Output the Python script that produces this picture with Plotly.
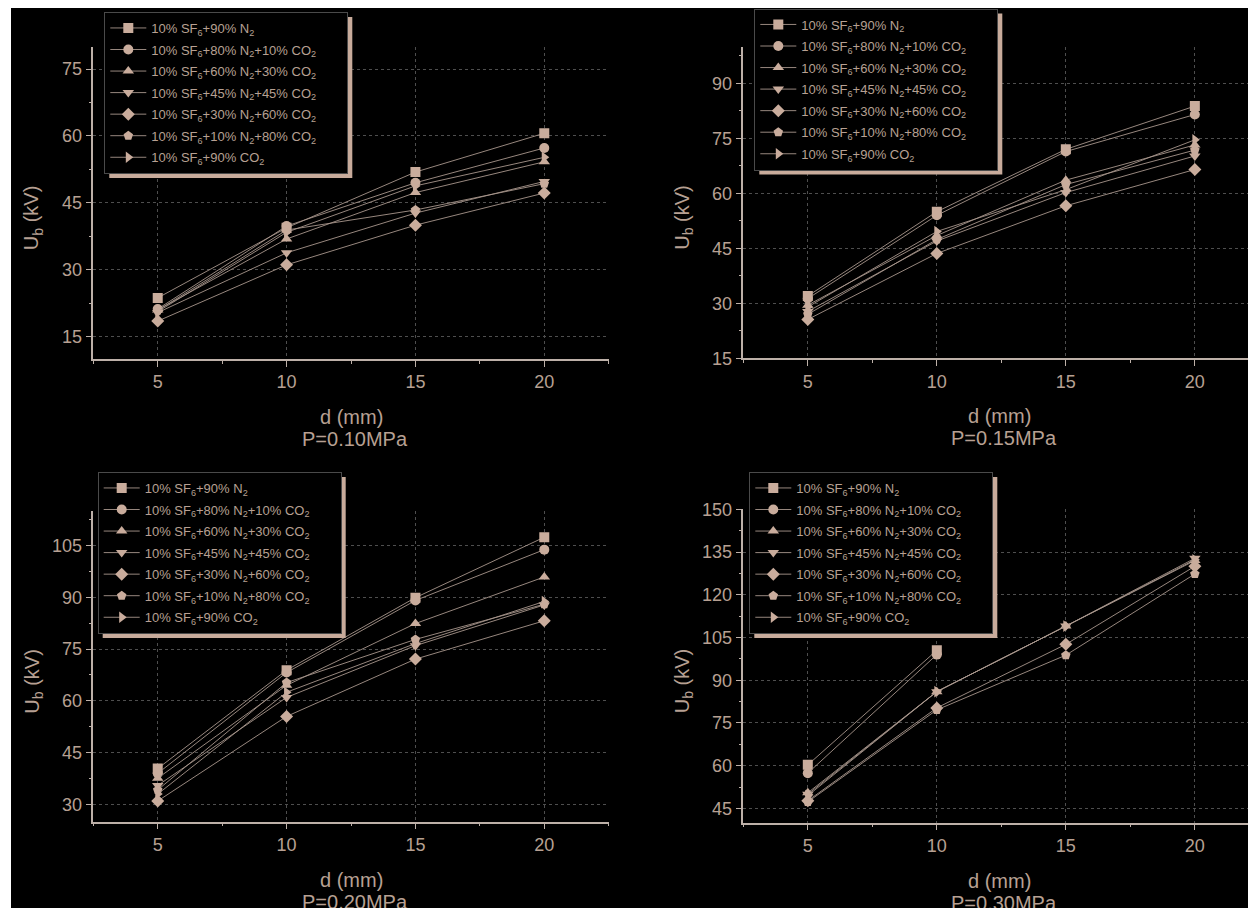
import plotly.graph_objects as go

# ---------------- data ----------------
d_mm = [5, 10, 15, 20]

mix_labels = [
    "10% SF<sub>6</sub>+90% N<sub>2</sub>",
    "10% SF<sub>6</sub>+80% N<sub>2</sub>+10% CO<sub>2</sub>",
    "10% SF<sub>6</sub>+60% N<sub>2</sub>+30% CO<sub>2</sub>",
    "10% SF<sub>6</sub>+45% N<sub>2</sub>+45% CO<sub>2</sub>",
    "10% SF<sub>6</sub>+30% N<sub>2</sub>+60% CO<sub>2</sub>",
    "10% SF<sub>6</sub>+10% N<sub>2</sub>+80% CO<sub>2</sub>",
    "10% SF<sub>6</sub>+90% CO<sub>2</sub>",
]
mix_symbols = ["square", "circle", "triangle-up", "triangle-down",
               "diamond", "pentagon", "triangle-right"]

pressure_labels = ["P=0.10MPa", "P=0.15MPa", "P=0.20MPa", "P=0.30MPa"]

# breakdown voltage U_b (kV), one row per mixture (order of mix_labels)
ub_p010 = [
    [23.7, 39.4, 51.9, 60.6],
    [21.2, 39.8, 49.5, 57.3],
    [21.0, 36.9, 47.3, 54.2],
    [20.4, 33.8, 42.7, 49.8],
    [18.5, 31.1, 40.0, 47.2],
    [20.9, 38.9, 43.4, 49.3],
    [20.6, 38.4, 48.8, 55.2],
]
ub_p015 = [
    [32.0, 55.0, 72.0, 83.8],
    [31.3, 54.0, 71.4, 81.5],
    [29.5, 48.5, 63.6, 73.2],
    [27.8, 47.0, 60.2, 70.2],
    [25.6, 43.6, 56.6, 66.5],
    [27.0, 47.4, 62.4, 71.8],
    [29.0, 49.6, 61.0, 74.6],
]
ub_p020 = [
    [40.4, 68.9, 89.9, 107.4],
    [39.0, 68.2, 89.1, 103.8],
    [37.6, 64.5, 82.4, 95.9],
    [35.5, 61.0, 76.0, 87.8],
    [31.0, 55.5, 72.1, 83.2],
    [34.2, 65.3, 77.8, 88.0],
    [33.0, 62.5, 76.6, 88.8],
]
ub_p030 = [
    [60.3, 100.5, None, None],
    [57.4, 99.0, None, None],
    [50.5, 86.0, 109.0, 132.0],
    [50.0, 86.0, 109.0, 132.8],
    [47.7, 80.3, 102.6, 130.0],
    [47.3, 79.6, 98.8, 127.3],
    [49.5, 86.0, 109.0, 132.3],
]
panels_data = [ub_p010, ub_p015, ub_p020, ub_p030]

# ---------------- style / layout ----------------
W, H = 1256, 908
# the page places the figure 8 px from the top-left corner (body margin)
OX, OY = 8.0, 8.0


def fx(px):
    return (px - OX) / W


def fy(py):
    return 1 - (py - OY) / H


FONT = "Arial, Liberation Sans, sans-serif"
MARK = "#C9AC9C"
LINEC = "#A8968C"
TXT = "#B7A093"
AXIS = "#BDB0A8"
GRID = "#4E4E4E"

# panel geometry (target pixels in the picture)
panel_px = [
    dict(x0=93.3, x1=608.7, ytop=46.7, ybot=359.0, xr=[2.5, 22.5], yr=[10, 80]),
    dict(x0=743.3, x1=1256.0, ytop=46.7, ybot=358.3, xr=[2.5, 22.37], yr=[15, 100]),
    dict(x0=93.3, x1=608.7, ytop=511.0, ybot=821.7, xr=[2.5, 22.5], yr=[25, 115]),
    dict(x0=743.3, x1=1256.0, ytop=509.3, ybot=822.7, xr=[2.5, 22.37], yr=[40, 150]),
]
# legend top-left corners (target pixels)
legend_px = [(104.3, 12.0), (754.3, 8.5), (97.7, 472.0), (749.3, 472.0)]
LEG_W, LEG_H = 243, 161

fig = go.Figure()

for p, data in enumerate(panels_data):
    sfx = "" if p == 0 else str(p + 1)
    for i, (lab, sym) in enumerate(zip(mix_labels, mix_symbols)):
        fig.add_trace(go.Scatter(
            x=d_mm, y=data[i], mode="lines+markers",
            name=lab + "\u00a0" * 7,
            legend="legend" + sfx,
            legendgroup=f"p{p}s{i}",
            xaxis="x" + sfx, yaxis="y" + sfx,
            line=dict(color=LINEC, width=0.9),
            marker=dict(symbol=sym, size=10, color=MARK, line=dict(width=0)),
            connectgaps=False,
        ))

layout = dict(
    width=W, height=H, autosize=False,
    margin=dict(l=0, r=0, t=0, b=0, pad=0, autoexpand=False),
    paper_bgcolor="black", plot_bgcolor="black",
    font=dict(family=FONT, color=TXT),
    showlegend=True,
    shapes=[], annotations=[],
)

# thin white strip at the far left, as in the original picture
layout["shapes"].append(dict(type="rect", xref="paper", yref="paper",
                             x0=0, x1=fx(11), y0=0, y1=1,
                             fillcolor="white", line=dict(width=0), layer="below"))

for p, g in enumerate(panel_px):
    sfx = "" if p == 0 else str(p + 1)
    common = dict(showline=True, linecolor=AXIS, linewidth=1.5, mirror=False,
                  ticks="outside", ticklen=6, tickwidth=1.3, tickcolor=AXIS,
                  showgrid=True, gridcolor=GRID, griddash="dot", gridwidth=1,
                  zeroline=False, automargin=False,
                  tickfont=dict(size=18, color=TXT, family=FONT))
    xa = dict(domain=[fx(g["x0"]), fx(g["x1"])], range=g["xr"], anchor="y" + sfx,
              tick0=0, dtick=5,
              minor=dict(ticks="outside", ticklen=3, tickwidth=1.2, tickcolor=AXIS,
                         dtick=2.5, showgrid=False),
              **common)
    ya = dict(domain=[fy(g["ybot"]), fy(g["ytop"])], range=g["yr"], anchor="x" + sfx,
              tick0=0, dtick=15,
              minor=dict(ticks="outside", ticklen=3, tickwidth=1.2, tickcolor=AXIS,
                         dtick=7.5, showgrid=False),
              **common)
    layout["xaxis" + sfx] = xa
    layout["yaxis" + sfx] = ya

    # axis titles
    layout["annotations"].append(dict(
        text="d (mm)", xref=f"x{sfx} domain", yref=f"y{sfx} domain",
        x=0.5, y=0, yanchor="middle", xanchor="center", yshift=-58, showarrow=False,
        font=dict(size=20, color=TXT, family=FONT)))
    layout["annotations"].append(dict(
        text=pressure_labels[p], xref=f"x{sfx} domain", yref=f"y{sfx} domain",
        x=0.5, y=0, yanchor="middle", xanchor="center", yshift=-80, xshift=4,
        showarrow=False, font=dict(size=20, color=TXT, family=FONT)))
    layout["annotations"].append(dict(
        text="U<sub>b</sub> (kV)", xref=f"x{sfx} domain", yref=f"y{sfx} domain",
        x=0, y=0.5, xanchor="center", yanchor="middle", xshift=-60, yshift=-15,
        textangle=-90, showarrow=False, font=dict(size=20, color=TXT, family=FONT)))

    # legend + drop shadow
    lx, ly = legend_px[p]
    layout["legend" + sfx] = dict(
        x=fx(lx), y=fy(ly), xanchor="left", yanchor="top",
        bgcolor="black", bordercolor="#4A4A4A", borderwidth=1,
        font=dict(size=13, color=TXT, family=FONT),
        itemwidth=36, tracegroupgap=1.65, traceorder="grouped",
    )
    layout["shapes"].append(dict(
        type="rect", xref="paper", yref="paper",
        x0=fx(lx + 5), x1=fx(lx + LEG_W + 5),
        y0=fy(ly + LEG_H + 5), y1=fy(ly + 5),
        fillcolor="#C8AB9B", line=dict(width=0), layer="above"))

fig.update_layout(**layout)
fig.write_html("out.html")
